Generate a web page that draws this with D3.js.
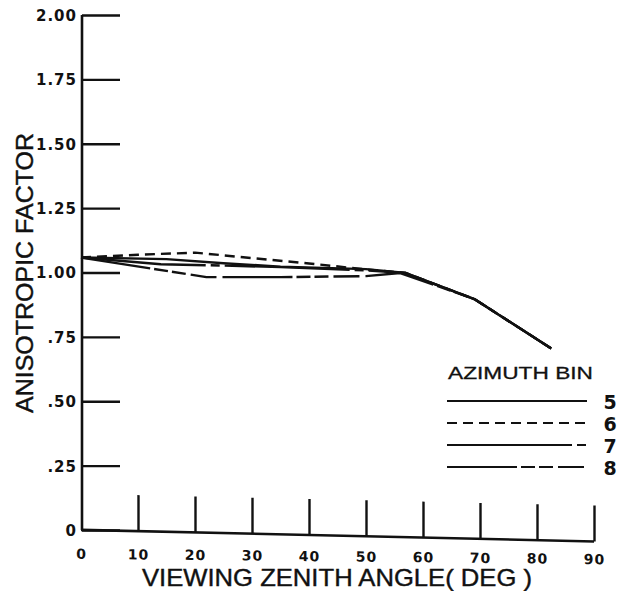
<!DOCTYPE html>
<html><head><meta charset="utf-8">
<script src="https://cdn.jsdelivr.net/npm/d3@7"></script>
<style>
html,body{margin:0;padding:0;background:#fff;}
svg{display:block;}
</style></head>
<body>
<svg id="c" width="630" height="591"></svg>
<script>
// ---- data ----
const xTicks = [0,10,20,30,40,50,60,70,80,90];
const yTicks = [0,0.25,0.5,0.75,1.0,1.25,1.5,1.75,2.0];
const yTickLabels = ["0",".25",".50",".75","1.00","1.25","1.50","1.75","2.00"];
const seriesNames = ["5","6","7","8"];
const bin5 = [[0,1.058],[15,1.052],[25,1.036],[35,1.023],[50,1.013],[57,0.998],[69,0.897],[82.5,0.705]];
const bin6 = [[0,1.058],[10,1.069],[20,1.077],[30,1.056],[40,1.035],[50,1.012],[57,0.998],[69,0.897],[82.5,0.705]];
const bin7 = [[0,1.058],[14,1.032],[25,1.027],[35,1.021],[50,1.008],[57,0.998],[69,0.897],[82.5,0.705]];
const bin8 = [[0,1.058],[22,0.982],[35,0.982],[50,0.986],[56,0.998],[69,0.897],[82.5,0.705]];
const seriesData = [bin5, bin6, bin7, bin8];
const dashes = ["none", "10,6", "125,5,9,5", "70,4,14,4,14,5,26,6"];

// ---- layout ----
const svg = d3.select("#c");
const x = d3.scaleLinear().domain([0,90]).range([81,594]);
const y = d3.scaleLinear().domain([0,2]).range([530,15]);
const ink = "#111";
const tickFont = "'DejaVu Sans', sans-serif";

// y axis
const yAxis = d3.axisLeft(y).tickValues(yTicks).tickSize(-38).tickFormat((d,i)=>yTickLabels[i]).tickPadding(5);
const gy = svg.append("g").attr("transform","translate(82,0)").call(yAxis);
gy.select(".domain").attr("d", `M0,${y(2)}V${y(0)}`).attr("stroke",ink).attr("stroke-width",2.6);
gy.selectAll(".tick line").attr("stroke",ink).attr("stroke-width",2.4);
gy.selectAll(".tick text").attr("fill",ink).attr("font-family",tickFont).attr("font-weight","bold")
  .attr("font-size",15).attr("letter-spacing","1px").attr("dy","0.36em");

// x axis (slightly skewed like the scanned original)
const xAxis = d3.axisBottom(x).tickValues(xTicks).tickSize(0).tickFormat(d3.format("d")).tickPadding(19);
const gx = svg.append("g").attr("transform","translate(0,530) skewY(1.3) translate(0,-2)").call(xAxis);
gx.select(".domain").attr("d", `M${x(0)},0H${x(90)}`).attr("stroke",ink).attr("stroke-width",2.6);
gx.selectAll(".tick").filter(d=>d>0).append("line").attr("y1",0).attr("y2",-36).attr("stroke",ink).attr("stroke-width",2.4);
gx.selectAll(".tick text").attr("fill",ink).attr("font-family",tickFont).attr("font-weight","bold")
  .attr("font-size",14).attr("letter-spacing","1px")
  .attr("transform",d=>`translate(0,${-d*0.07})`);

// axis titles
svg.append("text").attr("x",337).attr("y",586).attr("text-anchor","middle")
  .attr("font-family","'Liberation Sans', Arial, sans-serif").attr("font-size",24).attr("fill",ink)
  .attr("stroke",ink).attr("stroke-width",0.4)
  .attr("textLength",390).attr("lengthAdjust","spacingAndGlyphs")
  .text("VIEWING ZENITH ANGLE( DEG )");
svg.append("text").attr("transform","translate(33,273) rotate(-90)").attr("text-anchor","middle")
  .attr("font-family","'Liberation Sans', Arial, sans-serif").attr("font-size",24).attr("fill",ink)
  .attr("stroke",ink).attr("stroke-width",0.4)
  .attr("textLength",280).attr("lengthAdjust","spacingAndGlyphs")
  .text("ANISOTROPIC FACTOR");

// curves
const line = d3.line().x(d=>x(d[0])).y(d=>y(d[1]));
seriesData.forEach((s,i)=>{
  svg.append("path").datum(s).attr("d",line).attr("fill","none").attr("stroke",ink)
    .attr("stroke-width",2.4).attr("stroke-dasharray",dashes[i]).attr("stroke-linejoin","round");
});

// legend
svg.append("text").attr("x",448).attr("y",379)
  .attr("font-family","'Liberation Sans', Arial, sans-serif").attr("font-size",17).attr("fill",ink)
  .attr("stroke",ink).attr("stroke-width",0.3)
  .attr("textLength",145).attr("lengthAdjust","spacingAndGlyphs").text("AZIMUTH BIN");
const legY = d3.scalePoint().domain(seriesNames).range([401,467]);
seriesNames.forEach((n,i)=>{
  svg.append("line").attr("x1",447).attr("x2",587).attr("y1",legY(n)).attr("y2",legY(n))
    .attr("stroke",ink).attr("stroke-width",2.2).attr("stroke-dasharray",dashes[i]);
  svg.append("text").attr("x",610).attr("y",legY(n)+8).attr("text-anchor","middle")
    .attr("font-family",tickFont).attr("font-weight","bold").attr("font-size",19).attr("fill",ink).text(n);
});
</script>
</body></html>
